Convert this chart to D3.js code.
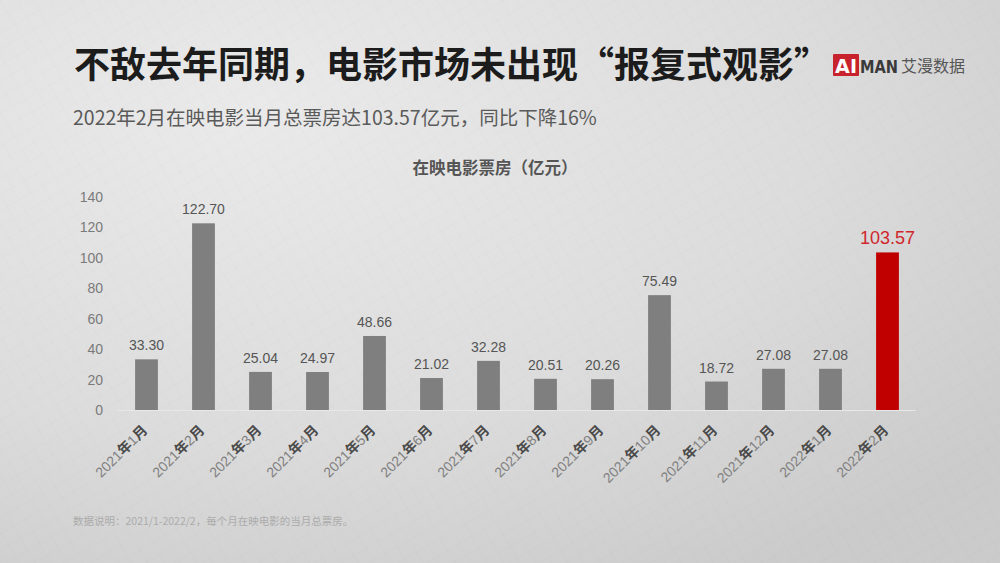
<!DOCTYPE html>
<html><head><meta charset="utf-8">
<script src="https://cdn.jsdelivr.net/npm/d3@7/dist/d3.min.js"></script>
<style>html,body{margin:0;padding:0;background:#ddd;}svg{display:block;}</style>
</head><body>
<svg id="c" width="1000" height="563"></svg>
<script>
const categories = ["2021年1月","2021年2月","2021年3月","2021年4月","2021年5月","2021年6月","2021年7月","2021年8月","2021年9月","2021年10月","2021年11月","2021年12月","2022年1月","2022年2月"];
const values = [33.30,122.70,25.04,24.97,48.66,21.02,32.28,20.51,20.26,75.49,18.72,27.08,27.08,103.57];
const yTicks = [0,20,40,60,80,100,120,140];
const highlightIndex = 13;

const svg = d3.select("#c");
const W = 1000, H = 563;
const defs = svg.append("defs");
const bg = defs.append("radialGradient").attr("id","bg").attr("cx","0.25").attr("cy","0.2").attr("r","0.95");
bg.append("stop").attr("offset","0").attr("stop-color","#eaeaea");
bg.append("stop").attr("offset","0.6").attr("stop-color","#dcdcdc");
bg.append("stop").attr("offset","1").attr("stop-color","#cbcbcb");
const pat = defs.append("pattern").attr("id","tex").attr("width",14).attr("height",14).attr("patternUnits","userSpaceOnUse").attr("patternTransform","rotate(-30)");
pat.append("path").attr("d","M0 0 L14 0 M0 0 L0 14").attr("stroke","#000").attr("stroke-opacity",0.025).attr("stroke-width",1);
svg.append("rect").attr("width",W).attr("height",H).attr("fill","url(#bg)");
svg.append("rect").attr("width",W).attr("height",H).attr("fill","url(#tex)");

const font = "'Noto Sans CJK SC','Noto Sans',sans-serif";

svg.append("text").attr("x",74).attr("y",78).attr("font-family",font).attr("font-weight",700)
  .attr("font-size",36).attr("fill","#1c1c1c").text("不敌去年同期，电影市场未出现“报复式观影”");
svg.append("text").attr("x",73).attr("y",125).attr("font-family",font)
  .attr("font-size",19.5).attr("fill","#5a5a5a").text("2022年2月在映电影当月总票房达103.57亿元，同比下降16%");
svg.append("text").attr("x",495).attr("y",174).attr("text-anchor","middle").attr("font-family",font).attr("font-weight",700)
  .attr("font-size",16.5).attr("fill","#555").text("在映电影票房（亿元）");

// logo
const lg = svg.append("g");
lg.append("rect").attr("x",833).attr("y",54).attr("width",26).attr("height",22).attr("fill","#c8232c").attr("rx",1);
lg.append("text").attr("x",846).attr("y",73).attr("text-anchor","middle").attr("font-family","'DejaVu Sans',sans-serif").attr("font-weight",700).attr("font-size",19).attr("fill","#fff").attr("textLength",22).text("AI");
lg.append("text").attr("x",860).attr("y",73).attr("font-family","'DejaVu Sans Condensed','DejaVu Sans',sans-serif").attr("font-weight",700).attr("font-size",18).attr("fill","#3a3a3a").attr("textLength",38).attr("lengthAdjust","spacingAndGlyphs").text("MAN");
lg.append("text").attr("x",901).attr("y",72).attr("font-family",font).attr("font-size",16).attr("fill","#555").text("艾漫数据");

// chart
const x = d3.scaleBand().domain(categories).range([118,916]).paddingInner(0.6).paddingOuter(0.3);
const y = d3.scaleLinear().domain([0,140]).range([410,197]);

const yAxis = svg.append("g").attr("transform","translate(103,0)")
  .call(d3.axisLeft(y).tickValues(yTicks).tickSize(0).tickPadding(0));
yAxis.select(".domain").remove();
yAxis.selectAll("text").attr("font-family","'Liberation Sans',Arial,sans-serif").attr("font-size",14).attr("fill","#7a7a7a");

svg.append("line").attr("x1",118).attr("x2",916).attr("y1",410.5).attr("y2",410.5).attr("stroke","#e8e8e8").attr("stroke-width",1);

svg.selectAll("rect.bar").data(values).join("rect").attr("class","bar")
  .attr("x",(d,i)=>x(categories[i])).attr("width",x.bandwidth())
  .attr("y",d=>y(d)).attr("height",d=>y(0)-y(d))
  .attr("fill",(d,i)=>i===highlightIndex?"#c00000":"#7f7f7f");

svg.selectAll("text.val").data(values).join("text").attr("class","val")
  .attr("x",(d,i)=>x(categories[i])+x.bandwidth()/2)
  .attr("y",(d,i)=>y(d)-(i===highlightIndex?8:9))
  .attr("text-anchor","middle").attr("font-family","'Liberation Sans',Arial,sans-serif")
  .attr("font-size",(d,i)=>i===highlightIndex?18:14)
  .attr("fill",(d,i)=>i===highlightIndex?"#d0262b":"#555")
  .text(d=>d.toFixed(2));

// x labels
const xl = svg.selectAll("text.xl").data(categories).join("text").attr("class","xl")
  .attr("transform",d=>`translate(${x(d)+x.bandwidth()/2+2},${431}) rotate(-45)`)
  .attr("text-anchor","end").attr("font-size",14).attr("font-family",font);
xl.each(function(d){
  const m = d.match(/^(\d+)(年)(\d+)(月)$/);
  const t = d3.select(this);
  t.append("tspan").attr("fill","#808080").attr("font-family","'Liberation Sans',Arial,sans-serif").text(m[1]);
  t.append("tspan").attr("fill","#4a4a4a").attr("font-weight",700).text(m[2]);
  t.append("tspan").attr("fill","#808080").attr("font-family","'Liberation Sans',Arial,sans-serif").text(m[3]);
  t.append("tspan").attr("fill","#4a4a4a").attr("font-weight",700).text(m[4]);
});

svg.append("text").attr("x",73).attr("y",525).attr("font-family",font).attr("font-size",10.5).attr("fill","#ababab")
  .text("数据说明：2021/1-2022/2，每个月在映电影的当月总票房。");
</script>
</body></html>
